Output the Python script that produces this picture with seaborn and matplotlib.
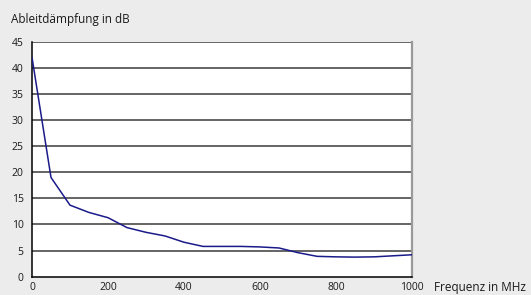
import matplotlib
matplotlib.use("Agg")
import matplotlib.pyplot as plt
import seaborn as sns
import pandas as pd
from matplotlib.ticker import MultipleLocator

# Frequency in MHz and derived attenuation in dB
freq = [0, 50, 100, 150, 200, 250, 300, 350, 400, 450, 500, 550, 600, 650,
        700, 750, 800, 850, 900, 950, 1000]
daempfung = [42.0, 19.0, 13.7, 12.3, 11.3, 9.4, 8.5, 7.8, 6.6, 5.8, 5.8, 5.8,
             5.7, 5.5, 4.6, 3.9, 3.8, 3.75, 3.8, 4.0, 4.2]
y_ticks = [0, 5, 10, 15, 20, 25, 30, 35, 40, 45]
x_ticks = [0, 200, 400, 600, 800, 1000]

data = pd.DataFrame({"freq": freq, "db": daempfung})

sns.set_style("white")
plt.rcParams["font.family"] = ["Open Sans", "DejaVu Sans"]
plt.rcParams["font.size"] = 8

bg = "#ececec"
fig = plt.figure(figsize=(5.31, 2.95), dpi=100, facecolor=bg)
ax = fig.add_axes([32 / 531, 1 - 276.7 / 295, 380 / 531, 235 / 295])
ax.set_facecolor("white")

# gridlines
for v in y_ticks[1:]:
    ax.axhline(v, color="#4a4a4a", lw=1.2, zorder=1)

sns.lineplot(data=data, x="freq", y="db", ax=ax, color="#1a1a8a", lw=1.1, zorder=3)

ax.set_xlim(0, 1000)
ax.set_ylim(0, 45)
ax.set_yticks(y_ticks)
ax.set_xticks(x_ticks)
ax.xaxis.set_minor_locator(MultipleLocator(100))
ax.tick_params(axis="both", which="both", direction="out", length=4, width=1,
               color="black", labelsize=7.5, labelcolor="#1a1a1a", pad=2)
ax.tick_params(axis="x", which="both", length=3.5, pad=0.5)
ax.set_xlabel("")
ax.set_ylabel("")

for side in ["left", "bottom"]:
    ax.spines[side].set_color("black")
    ax.spines[side].set_linewidth(1.1)
ax.spines["top"].set_visible(False)
ax.spines["right"].set_color("#9a9a9a")
ax.spines["right"].set_linewidth(1.6)

fig.text(11 / 531, 1 - 20 / 295, "Ableitdämpfung in dB", fontsize=8.5,
         color="#1a1a1a", va="center", ha="left")
fig.text(434 / 531, 1 - 288 / 295, "Frequenz in MHz", fontsize=8.5,
         color="#1a1a1a", va="center", ha="left")

fig.savefig("out.png", dpi=100, facecolor=bg)
